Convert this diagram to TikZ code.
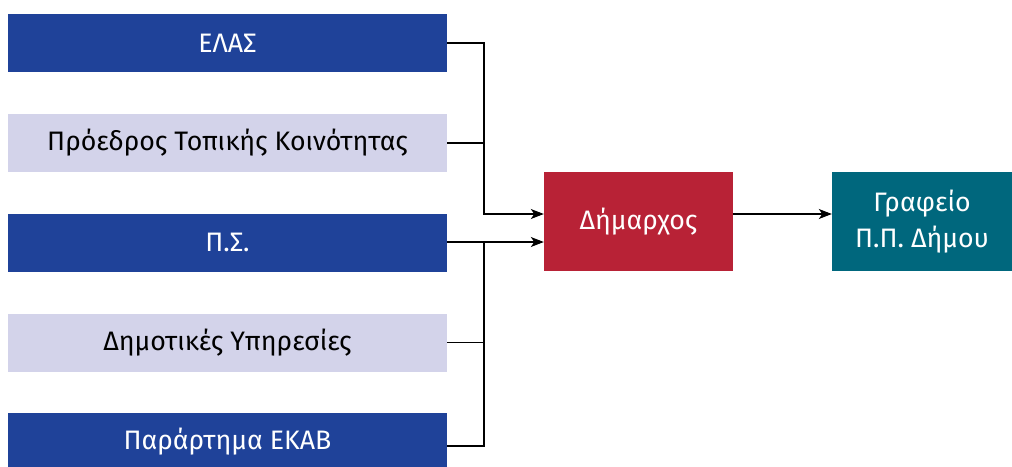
\documentclass[tikz,border=0pt]{standalone}
\usepackage{fontspec}
\setmainfont{Fira Sans}
\usetikzlibrary{arrows.meta}
\definecolor{dblue}{RGB}{31,66,153}
\definecolor{lav}{RGB}{211,211,234}
\definecolor{dred}{RGB}{184,34,54}
\definecolor{teal2}{RGB}{0,103,125}
\tikzset{
  wide/.style={minimum width=439pt, minimum height=58pt, inner sep=0pt, font=\fontsize{26.7}{30}\selectfont},
  darkbox/.style={wide, fill=dblue, text=white},
  lightbox/.style={wide, fill=lav, text=black},
  midbox/.style={minimum height=99pt, inner sep=0pt, text=white, align=center, font=\fontsize{26.7}{36}\selectfont},
  conn/.style={line width=1.1pt, black},
  arr/.style={conn, -{Stealth[length=13pt,width=10pt,inset=3.5pt]}}
}
\begin{document}
\begin{tikzpicture}[x=1pt,y=-1pt]
\useasboundingbox (0,0) rectangle (1012,466);
\begin{scope}
\clip (0,0) rectangle (1012,466);
\node[darkbox] (b1) at (227.5,43) {ΕΛΑΣ};
\node[lightbox] (b2) at (227.5,143) {Πρόεδρος Τοπικής Κοινότητας};
\node[darkbox] (b3) at (227.5,242.5) {Π.Σ.};
\node[lightbox] (b4) at (227.5,342.5) {Δημοτικές Υπηρεσίες};
\node[darkbox] (b5) at (227.5,442) {Παράρτημα ΕΚΑΒ};
\end{scope}
\node[midbox, fill=dred, minimum width=189pt] (d) at (638.5,221.5) {Δήμαρχος};
\node[midbox, fill=teal2, minimum width=180pt] (g) at (922,221.5) {Γραφείο\\Π.Π. Δήμου};
\coordinate (top) at (484,43);
\coordinate (bot) at (484,446);
\coordinate (din1) at ([yshift=7.5pt]d.west);
\coordinate (din2) at ([yshift=-20.5pt]d.west);
\draw[arr] (b1.east) -- (top) |- (din1);
\draw[conn] (b2.east) -- (b2.east -| top);
\draw[arr] (b3.east |- din2) -- (din2);
\draw[conn] (b4.east) -- (b4.east -| top);
\draw[conn] (b5.east |- bot) -- (bot) -- (bot |- din2);
\draw[arr] (d.east |- din1) -- (g.west |- din1);
\end{tikzpicture}
\end{document}
